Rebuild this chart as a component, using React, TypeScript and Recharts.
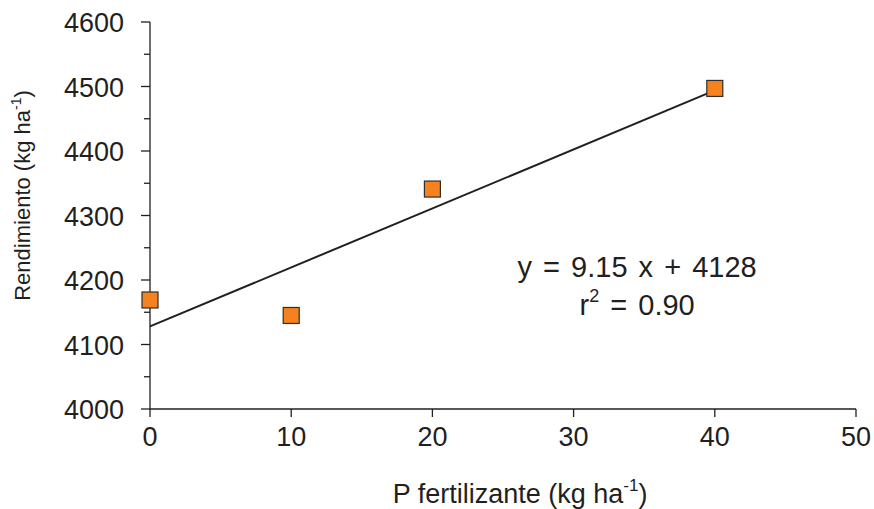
import {
    ComposedChart,
    Scatter,
    XAxis,
    YAxis,
    ReferenceLine,
    ReferenceDot,
} from 'recharts';

const FONT = '"Liberation Sans", Arial, Helvetica, sans-serif';
const INK = '#231f20';

// observed yields
const doses = [0, 10, 20, 40];
const yields = [4169, 4145, 4341, 4497];

// regression line y = 9.15 x + 4128, drawn from x=0 to x=40
const fitLine = [
    { x: 0, y: 4128 },
    { x: 40, y: 4494 },
];

const xTicks = [0, 10, 20, 30, 40, 50];
const yTicks = [4000, 4050, 4100, 4150, 4200, 4250, 4300, 4350, 4400, 4450, 4500, 4550, 4600];

const equationLabel = 'y = 9.15 x + 4128';
const r2Value = '0.90';

const points = doses.map((d, i) => ({ x: d, y: yields[i] }));

type VB = { x: number; y: number; width: number; height: number };

const YTick = ({ x, y, payload }: { x?: number; y?: number; payload?: { value: number } }) => {
    if (x == null || y == null || !payload) return null;
    const major = payload.value % 100 === 0;
    return (
        <g>
            <line x1={x - (major ? 9 : 6)} x2={x} y1={y} y2={y} stroke={INK} strokeWidth={1.3} />
            {major && (
                <text x={x - 26} y={y + 10} textAnchor="end" fill={INK} fontSize={27} fontFamily={FONT}>
                    {payload.value}
                </text>
            )}
        </g>
    );
};

const SquareDot = (props: { cx?: number; cy?: number }) => {
    const { cx, cy } = props;
    if (cx == null || cy == null) return null;
    return (
        <rect x={cx - 8} y={cy - 8} width={16} height={16} fill="#f5821f" stroke="#2e2e2e" strokeWidth={1.2} />
    );
};

const Equation = (props: { cx?: number; cy?: number }) => {
    const { cx, cy } = props;
    if (cx == null || cy == null) return null;
    return (
        <g fontFamily={FONT} fill={INK}>
            <text x={cx} y={cy} textAnchor="middle" fontSize={29} wordSpacing={3} style={{ whiteSpace: 'pre' }}>
                {equationLabel}
            </text>
            <text x={cx} y={cy + 38} textAnchor="middle" fontSize={29} wordSpacing={3}>
                r<tspan fontSize={18} dy={-13}>2</tspan>
                <tspan dy={13}>{' = ' + r2Value}</tspan>
            </text>
        </g>
    );
};

const XLabel = ({ viewBox }: { viewBox?: VB }) => {
    if (!viewBox) return null;
    const cx = viewBox.x + viewBox.width / 2 + 17;
    return (
        <text x={cx} y={viewBox.y + 94} textAnchor="middle" fill={INK} fontSize={27} fontFamily={FONT}>
            P fertilizante (kg ha<tspan fontSize={17} dy={-12}>-1</tspan>
            <tspan dy={12}>)</tspan>
        </text>
    );
};

const YLabel = ({ viewBox }: { viewBox?: VB }) => {
    if (!viewBox) return null;
    const cx = viewBox.x + 30;
    const cy = viewBox.y + viewBox.height / 2 - 20;
    return (
        <text
            x={cx}
            y={cy}
            transform={`rotate(-90 ${cx} ${cy})`}
            textAnchor="middle"
            fill={INK}
            fontSize={22}
            fontFamily={FONT}
        >
            Rendimiento (kg ha<tspan fontSize={14} dy={-9}>-1</tspan>
            <tspan dy={9}>)</tspan>
        </text>
    );
};

export default function App() {
    return (
        <div style={{ position: 'absolute', left: 0, top: 0, background: '#fff' }}>
            <ComposedChart width={874} height={509} margin={{ top: 22, right: 18, bottom: 0, left: 0 }}>
                <XAxis
                    type="number"
                    dataKey="x"
                    domain={[0, 50]}
                    ticks={xTicks}
                    height={100}
                    axisLine={{ stroke: INK, strokeWidth: 1.3 }}
                    tickLine={{ stroke: INK, strokeWidth: 1.3 }}
                    tickSize={8}
                    tickMargin={10}
                    tick={{ fill: INK, fontSize: 27, fontFamily: FONT }}
                    label={<XLabel />}
                />
                <YAxis
                    type="number"
                    dataKey="y"
                    domain={[4000, 4600]}
                    ticks={yTicks}
                    width={150}
                    interval={0}
                    axisLine={{ stroke: INK, strokeWidth: 1.3 }}
                    tickLine={false}
                    tickSize={0}
                    tickMargin={0}
                    tick={<YTick />}
                    label={<YLabel />}
                />
                <Scatter data={points} shape={<SquareDot />} isAnimationActive={false} />
                <ReferenceLine segment={fitLine} stroke={INK} strokeWidth={2} />
                <ReferenceDot x={34.5} y={4205} r={0} shape={<Equation />} />
            </ComposedChart>
        </div>
    );
}
